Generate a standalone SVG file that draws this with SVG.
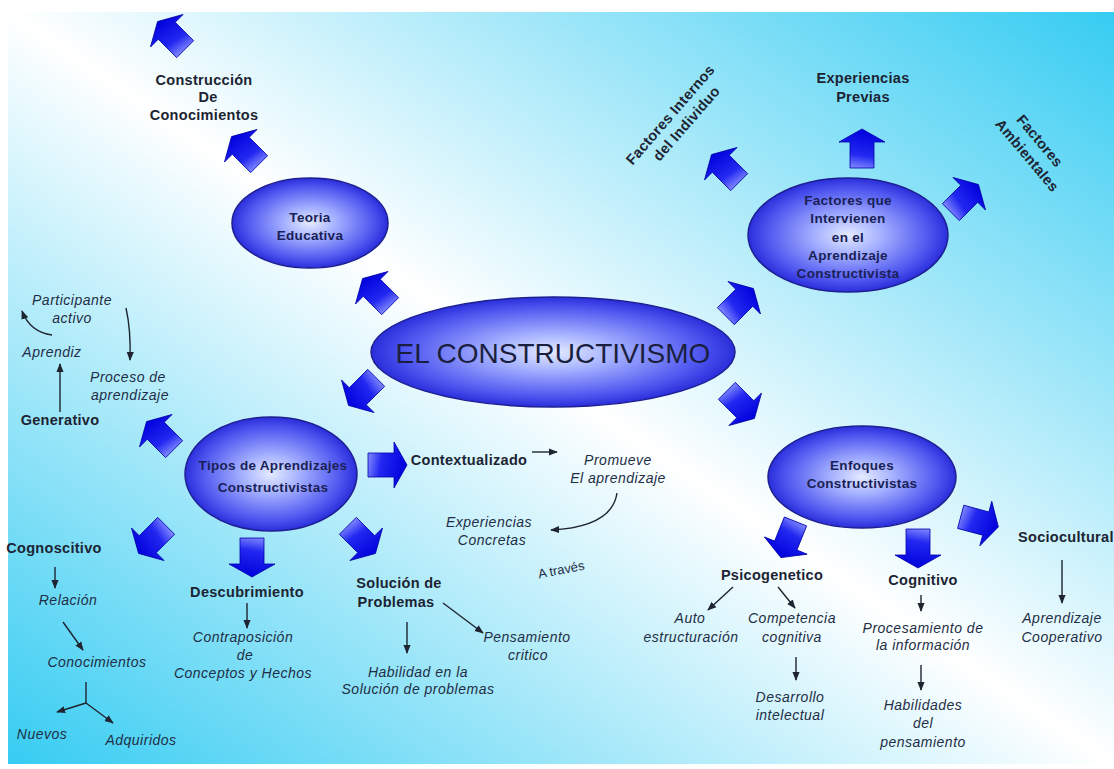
<svg xmlns="http://www.w3.org/2000/svg" xmlns:xlink="http://www.w3.org/1999/xlink" width="1114" height="769" viewBox="0 0 1114 769">
<defs>
<linearGradient id="bgGrad" x1="0" y1="1" x2="1" y2="0">
<stop offset="0" stop-color="#36ccf2"/>
<stop offset="0.5" stop-color="#ffffff"/>
<stop offset="1" stop-color="#36ccf2"/>
</linearGradient>
<radialGradient id="ellGrad" cx="0.5" cy="0.5" r="0.5">
<stop offset="0" stop-color="#e4ebff"/>
<stop offset="0.35" stop-color="#a2aeff"/>
<stop offset="0.8" stop-color="#5058f0"/>
<stop offset="1" stop-color="#2a2edb"/>
</radialGradient>
<linearGradient id="arrGrad" x1="0" y1="0.3" x2="1" y2="0.5">
<stop offset="0" stop-color="#8088ff"/>
<stop offset="0.35" stop-color="#2228f0"/>
<stop offset="1" stop-color="#0000dc"/>
</linearGradient>
<path id="barrow" d="M-20,-12 L6,-12 L6,-23 L19,0 L6,23 L6,12 L-20,12 Z" fill="url(#arrGrad)" stroke="#0000a8" stroke-width="0.8"/>
<marker id="ah" viewBox="0 0 10 10" refX="9" refY="5" markerUnits="userSpaceOnUse" markerWidth="9" markerHeight="9" orient="auto">
<path d="M0,1 L10,5 L0,9 Z" fill="#1e2430"/>
</marker>
<style>
.b{font-family:"Liberation Sans",Arial,sans-serif;font-weight:bold;font-size:14.5px;fill:#1c2433;text-anchor:middle;letter-spacing:0.3px}
.i{font-family:"Liberation Sans",Arial,sans-serif;font-style:italic;font-size:14px;fill:#1f2e46;text-anchor:middle;letter-spacing:0.5px}
.e{font-family:"Liberation Sans",Arial,sans-serif;font-weight:bold;font-size:13.5px;fill:#1a1f55;text-anchor:middle;letter-spacing:0.3px}
.m{font-family:"Liberation Sans",Arial,sans-serif;font-size:28px;fill:#1a1f40;text-anchor:middle}
.r{font-family:"Liberation Sans",Arial,sans-serif;font-size:13px;fill:#1f2e46;text-anchor:middle}
.ell{fill:url(#ellGrad);stroke:#1e2090;stroke-width:1.5}
.ln{fill:none;stroke:#1e2430;stroke-width:1.4;marker-end:url(#ah)}
.ln0{fill:none;stroke:#1e2430;stroke-width:1.4}
</style>
</defs>
<rect x="0" y="0" width="1114" height="769" fill="#ffffff"/>
<rect x="8" y="12" width="1106" height="752" fill="url(#bgGrad)"/>

<g id="connectors">
<use xlink:href="#barrow" transform="translate(171,35) rotate(-135)"/>
<use xlink:href="#barrow" transform="translate(245,150) rotate(-135)"/>
<use xlink:href="#barrow" transform="translate(376,292) rotate(-135)"/>
<use xlink:href="#barrow" transform="translate(362,392) rotate(135)"/>
<use xlink:href="#barrow" transform="translate(160,435) rotate(-135)"/>
<use xlink:href="#barrow" transform="translate(388,465) rotate(0)"/>
<use xlink:href="#barrow" transform="translate(152,540) rotate(135)"/>
<use xlink:href="#barrow" transform="translate(252,558) rotate(90)"/>
<use xlink:href="#barrow" transform="translate(362,540) rotate(45)"/>
<use xlink:href="#barrow" transform="translate(740,302) rotate(-45)"/>
<use xlink:href="#barrow" transform="translate(725,168) rotate(-135)"/>
<use xlink:href="#barrow" transform="translate(862,148) rotate(-90)"/>
<use xlink:href="#barrow" transform="translate(965,198) rotate(-45)"/>
<use xlink:href="#barrow" transform="translate(741,405) rotate(45)"/>
<use xlink:href="#barrow" transform="translate(788,540) rotate(112)"/>
<use xlink:href="#barrow" transform="translate(918,549) rotate(90)"/>
<use xlink:href="#barrow" transform="translate(980,522) rotate(15)"/>

<path class="ln" d="M60,412 L60,364"/>
<path class="ln" d="M52,335 Q30,332 22,311"/>
<path class="ln" d="M126,308 Q131,330 130,360"/>
<path class="ln" d="M532,452 L557,452"/>
<path class="ln" d="M617,493 Q612,527 551,530"/>
<path class="ln" d="M55,567 L55,588"/>
<path class="ln" d="M63,622 L83,650"/>
<path class="ln0" d="M86,682 L86,703"/>
<path class="ln" d="M86,703 L57,712"/>
<path class="ln" d="M86,703 L113,723"/>
<path class="ln" d="M247,603 L247,628"/>
<path class="ln" d="M407,622 L407,653"/>
<path class="ln" d="M443,603 L483,633"/>
<path class="ln" d="M733,587 L708,610"/>
<path class="ln" d="M778,587 L795,608"/>
<path class="ln" d="M796,657 L796,680"/>
<path class="ln" d="M921,595 L921,611"/>
<path class="ln" d="M921,665 L921,690"/>
<path class="ln" d="M1062,560 L1062,603"/>
</g>

<g id="n-main">
<ellipse class="ell" cx="553" cy="352" rx="182" ry="55"/>
<text class="m" x="553" y="363">EL CONSTRUCTIVISMO</text>
</g>
<g id="n-teoria">
<ellipse class="ell" cx="310" cy="223" rx="78" ry="45"/>
<text class="e" x="310" y="222">Teoria</text>
<text class="e" x="310" y="240">Educativa</text>
</g>
<g id="n-factores">
<ellipse class="ell" cx="848" cy="235" rx="100" ry="57"/>
<text class="e" x="848" y="205">Factores que</text>
<text class="e" x="848" y="223">Intervienen</text>
<text class="e" x="848" y="242">en el</text>
<text class="e" x="848" y="260">Aprendizaje</text>
<text class="e" x="848" y="278">Constructivista</text>
</g>
<g id="n-tipos">
<ellipse class="ell" cx="271" cy="474" rx="86" ry="57"/>
<text class="e" x="273" y="470">Tipos de Aprendizajes</text>
<text class="e" x="273" y="492">Constructivistas</text>
</g>
<g id="n-enfoques">
<ellipse class="ell" cx="862" cy="477" rx="94" ry="51"/>
<text class="e" x="862" y="470">Enfoques</text>
<text class="e" x="862" y="488">Constructivistas</text>
</g>

<g id="n-construccion">
<text class="b" x="204" y="85">Construcción</text>
<text class="b" x="208" y="102">De</text>
<text class="b" x="204" y="120">Conocimientos</text>
</g>
<g id="n-internos" transform="translate(674,118) rotate(-49)">
<text class="b" x="0" y="0">Factores Internos</text>
<text class="b" x="4" y="18">del Individuo</text>
</g>
<g id="n-previas">
<text class="b" x="863" y="83">Experiencias</text>
<text class="b" x="863" y="102">Previas</text>
</g>
<g id="n-ambientales" transform="translate(1036,144) rotate(50)">
<text class="b" x="0" y="0">Factores</text>
<text class="b" x="3" y="19">Ambientales</text>
</g>

<g id="n-participante">
<text class="i" x="72" y="305">Participante</text>
<text class="i" x="72" y="323">activo</text>
</g>
<g id="n-aprendiz"><text class="i" x="52" y="357">Aprendiz</text></g>
<g id="n-proceso">
<text class="i" x="128" y="382">Proceso de</text>
<text class="i" x="130" y="400">aprendizaje</text>
</g>
<g id="n-generativo"><text class="b" x="60" y="425">Generativo</text></g>

<g id="n-contextualizado"><text class="b" x="469" y="465">Contextualizado</text></g>
<g id="n-promueve">
<text class="i" x="618" y="465">Promueve</text>
<text class="i" x="618" y="483">El aprendizaje</text>
</g>
<g id="n-experiencias">
<text class="i" x="489" y="527">Experiencias</text>
<text class="i" x="492" y="545">Concretas</text>
</g>
<g id="n-atraves"><text class="r" x="562" y="574" transform="rotate(-11 562 574)">A través</text></g>

<g id="n-cognoscitivo"><text class="b" x="54" y="553">Cognoscitivo</text></g>
<g id="n-relacion"><text class="i" x="68" y="605">Relación</text></g>
<g id="n-conocimientos"><text class="i" x="97" y="667">Conocimientos</text></g>
<g id="n-nuevos"><text class="i" x="42" y="739">Nuevos</text></g>
<g id="n-adquiridos"><text class="i" x="141" y="745">Adquiridos</text></g>

<g id="n-descubrimiento"><text class="b" x="247" y="597">Descubrimiento</text></g>
<g id="n-contraposicion">
<text class="i" x="243" y="642">Contraposición</text>
<text class="i" x="245" y="660">de</text>
<text class="i" x="243" y="678">Conceptos y Hechos</text>
</g>

<g id="n-solucion">
<text class="b" x="399" y="588">Solución de</text>
<text class="b" x="396" y="607">Problemas</text>
</g>
<g id="n-pensamiento">
<text class="i" x="527" y="642">Pensamiento</text>
<text class="i" x="528" y="660">critico</text>
</g>
<g id="n-habilidad">
<text class="i" x="418" y="677">Habilidad en la</text>
<text class="i" x="418" y="694">Solución de problemas</text>
</g>

<g id="n-psico"><text class="b" x="772" y="580">Psicogenetico</text></g>
<g id="n-auto">
<text class="i" x="690" y="623">Auto</text>
<text class="i" x="691" y="642">estructuración</text>
</g>
<g id="n-competencia">
<text class="i" x="792" y="623">Competencia</text>
<text class="i" x="792" y="642">cognitiva</text>
</g>
<g id="n-desarrollo">
<text class="i" x="790" y="702">Desarrollo</text>
<text class="i" x="790" y="720">intelectual</text>
</g>
<g id="n-cognitivo"><text class="b" x="923" y="585">Cognitivo</text></g>
<g id="n-procesamiento">
<text class="i" x="923" y="633">Procesamiento de</text>
<text class="i" x="923" y="650">la información</text>
</g>
<g id="n-habilidades">
<text class="i" x="923" y="710">Habilidades</text>
<text class="i" x="923" y="728">del</text>
<text class="i" x="923" y="747">pensamiento</text>
</g>
<g id="n-socio"><text class="b" x="1018" y="542" style="text-anchor:start">Sociocultural</text></g>
<g id="n-cooperativo">
<text class="i" x="1062" y="623">Aprendizaje</text>
<text class="i" x="1062" y="642">Cooperativo</text>
</g>
</svg>
